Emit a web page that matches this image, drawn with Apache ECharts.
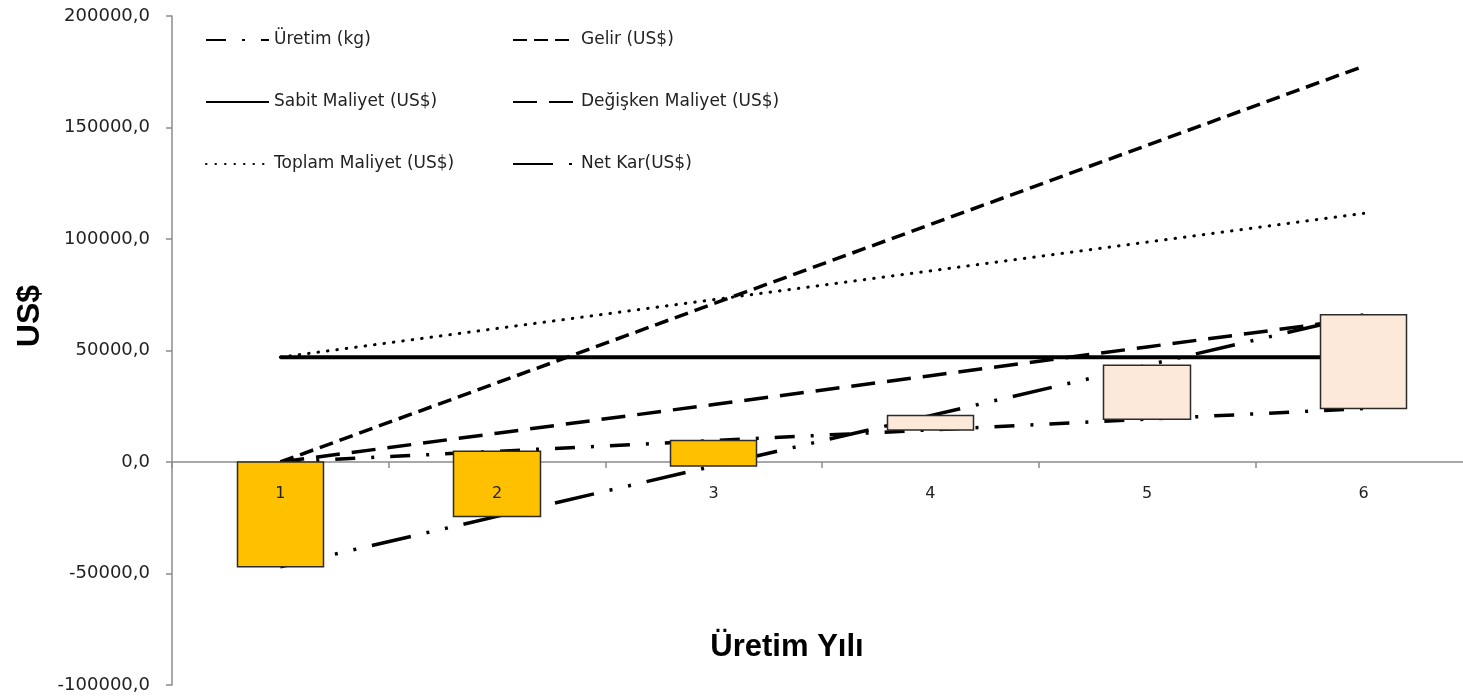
<!DOCTYPE html>
<html>
<head>
<meta charset="utf-8">
<script src="https://cdn.jsdelivr.net/npm/echarts@6/dist/echarts.min.js"></script>
<style>html,body{margin:0;padding:0;background:#fff}#c{width:1463px;height:700px}</style>
</head>
<body>
<div id="c"></div>
<script>
const years = ['1', '2', '3', '4', '5', '6'];
const uretim = [0, 4800, 9600, 14400, 19200, 24000];
const gelir = [0, 35500, 71000, 106500, 142000, 177500];
const sabit = [47000, 47000, 47000, 47000, 47000, 47000];
const degisken = [0, 12900, 25800, 38700, 51600, 64500];
const toplam = [47000, 59900, 72800, 85700, 98600, 111500];
const netKar = [-47000, -24400, -1800, 20800, 43400, 66000];
const yTicks = { min: -100000, max: 200000, interval: 50000 };

const names = ['Üretim (kg)', 'Gelir (US$)', 'Sabit Maliyet (US$)', 'Değişken Maliyet (US$)', 'Toplam Maliyet (US$)', 'Net Kar(US$)'];

const GRID = { left: 172, top: 16, width: 1300, height: 669 };
const zeroOffset = -GRID.height * (0 - yTicks.min) / (yTicks.max - yTicks.min);

const chart = echarts.init(document.getElementById('c'), null, { renderer: 'canvas' });
const FONT = 'DejaVu Sans';
function lineSeries(name, data, type, width, cap) {
  return {
    name, type: 'line', data, symbol: 'none', z: 1, silent: true,
    itemStyle: { color: '#000' },
    lineStyle: { color: '#000', width: width, type: type, cap: cap || 'butt' }
  };
}
const upDown = uretim.map((u, i) => [u, netKar[i], Math.min(u, netKar[i]), Math.max(u, netKar[i])]);

const legendCommon = {
  orient: 'vertical', itemWidth: 63, itemHeight: 20, itemGap: 42, padding: 0,
  itemStyle: { opacity: 0 },
  textStyle: { fontFamily: FONT, fontSize: 17, color: '#222', lineHeight: 20 },
  selectedMode: false
};

chart.setOption({
  animation: false,
  backgroundColor: '#fff',
  grid: Object.assign({ containLabel: false, outerBoundsMode: 'none' }, GRID),
  legend: [
    Object.assign({ left: 205, top: 30, data: [names[0], names[2], names[4]] }, legendCommon),
    Object.assign({ left: 512, top: 30, data: [names[1], names[3], names[5]] }, legendCommon)
  ],
  graphic: [{
    type: 'text', x: 30, y: 316, rotation: Math.PI / 2,
    style: { text: 'US$', fontFamily: 'Liberation Sans', fontWeight: 'bold', fontSize: 32, fill: '#000', align: 'center', verticalAlign: 'middle' }
  }],
  title: {
    text: 'Üretim Yılı', left: 782, top: 627, textAlign: 'center',
    textStyle: { fontFamily: 'Liberation Sans', fontWeight: 'bold', fontSize: 31, color: '#000' }
  },
  xAxis: [{
    type: 'category', data: years, position: 'bottom', z: 0,
    axisLine: { show: true, onZero: true, lineStyle: { color: '#8c8c8c', width: 1.5 } },
    axisTick: { show: true, interval: 0, length: 6, lineStyle: { color: '#8c8c8c', width: 1.5 } },
    axisLabel: { show: false }
  }, {
    type: 'category', data: years, position: 'bottom', z: 10, offset: zeroOffset,
    axisLine: { show: false, onZero: false },
    axisTick: { show: false },
    axisLabel: { show: true, margin: 24, fontFamily: FONT, fontSize: 16, color: '#222', interval: 0 }
  }],
  yAxis: {
    type: 'value', min: yTicks.min, max: yTicks.max, interval: yTicks.interval,
    axisLine: { show: true, lineStyle: { color: '#8c8c8c', width: 1.5 } },
    axisTick: { show: true, length: 6, lineStyle: { color: '#8c8c8c', width: 1.5 } },
    splitLine: { show: false },
    axisLabel: {
      margin: 22, fontFamily: FONT, fontSize: 18, color: '#222',
      formatter: v => v.toFixed(1).replace('.', ',')
    }
  },
  series: [
    lineSeries(names[0], uretim, [20, 16, 3, 16], 3.5),
    lineSeries(names[1], gelir, [14, 7], 3.5),
    lineSeries(names[2], sabit, 'solid', 4),
    lineSeries(names[3], degisken, [24, 12], 3.5),
    lineSeries(names[4], toplam, [0.5, 9], 3, 'round'),
    lineSeries(names[5], netKar, [40, 16, 3, 16, 3, 16], 3.5),
    {
      name: 'updown', type: 'candlestick', data: upDown, barWidth: 87, z: 5, silent: true,
      itemStyle: { color: '#FCE9DA', color0: '#FFC000', borderColor: '#2b2b2b', borderColor0: '#2b2b2b', borderWidth: 1.5 }
    }
  ]
});
</script>
</body>
</html>
